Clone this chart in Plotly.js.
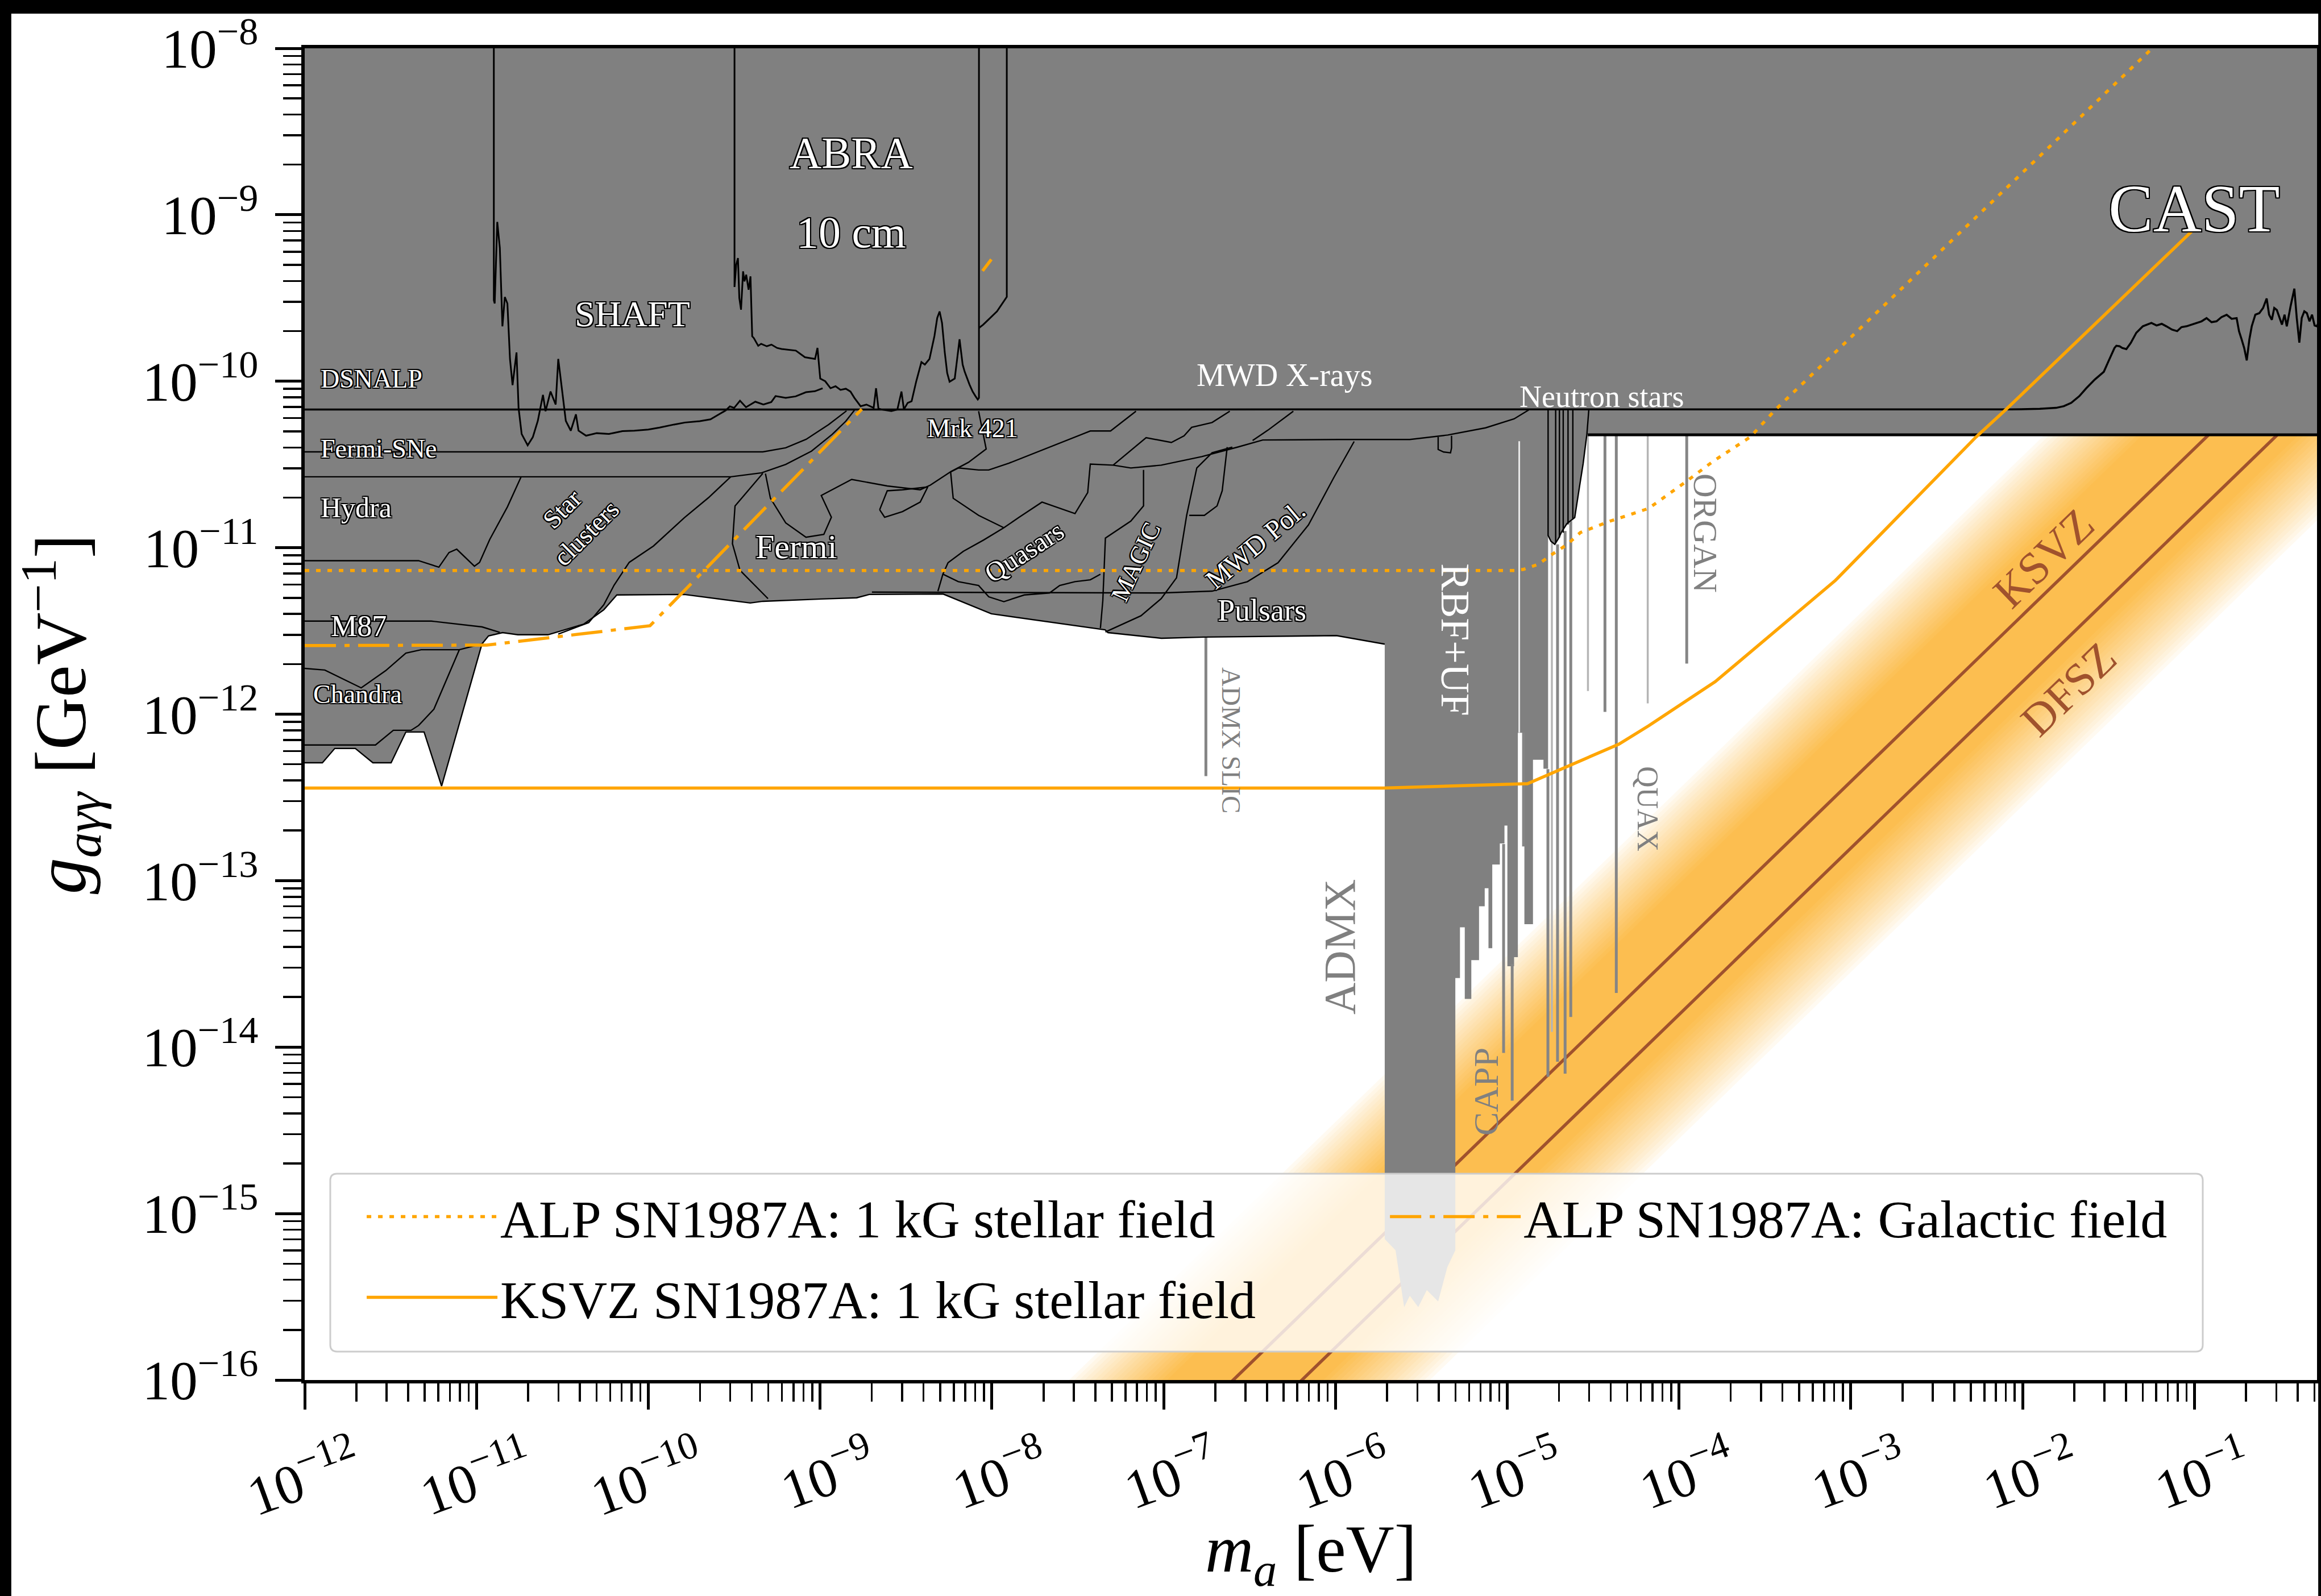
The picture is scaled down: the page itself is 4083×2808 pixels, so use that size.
<!DOCTYPE html>
<html>
<head>
<meta charset="utf-8">
<script src="https://cdn.plot.ly/plotly-3.0.1.min.js"></script>
<style>
html, body { margin: 0; padding: 0; background: #000; overflow: hidden; }
#chart { width: 4083px; height: 2808px; }
</style>
</head>
<body>
<div id="chart"></div>
<script>
// ---------------------------------------------------------------------------
// DATA: every point is [log10(m_a / eV), log10(g_agg / GeV^-1)]
// ---------------------------------------------------------------------------

// lower edge of the astrophysical exclusion region (left -> right)
const astroFloor = [[-12,-12.292],[-11.897,-12.292],[-11.825,-12.206],[-11.705,-12.206],[-11.603,-12.292],[-11.497,-12.292],[-11.411,-12.107],[-11.305,-12.107],[-11.203,-12.432],[-10.968,-11.578],[-10.930,-11.530],[-10.848,-11.510],[-10.759,-11.523],[-10.584,-11.523],[-10.375,-11.459],[-10.259,-11.373],[-10.183,-11.284],[-9.790,-11.281],[-9.406,-11.332],[-9.333,-11.322],[-8.992,-11.308],[-8.787,-11.301],[-8.714,-11.281],[-8.284,-11.278],[-8.003,-11.397],[-7.341,-11.493],[-7.324,-11.510],[-7.013,-11.544],[-6.762,-11.537],[-5.994,-11.528],[-5.713,-11.579]];

// haloscopes (ADMX, RBF+UF, CAPP, ...) and the rest of the outline, closing the grey region
const haloEdge = [[-5.713,-15.153],[-5.650,-15.221],[-5.600,-15.562],[-5.567,-15.494],[-5.518,-15.562],[-5.468,-15.460],[-5.402,-15.528],[-5.349,-15.323],[-5.302,-15.221],[-5.302,-13.585],[-5.275,-13.585],[-5.275,-13.280],[-5.247,-13.280],[-5.247,-13.711],[-5.209,-13.711],[-5.209,-13.478],[-5.164,-13.478],[-5.164,-13.154],[-5.131,-13.154],[-5.131,-13.046],[-5.109,-13.046],[-5.109,-13.406],[-5.087,-13.406],[-5.087,-12.903],[-5.043,-12.903],[-5.043,-12.777],[-5.016,-12.777],[-5.016,-12.669],[-4.999,-12.669],[-4.999,-13.514],[-4.960,-13.514],[-4.960,-13.460],[-4.938,-13.460],[-4.938,-12.112],[-4.900,-12.112],[-4.900,-13.262],[-4.850,-13.262],[-4.850,-12.274],[-4.789,-12.274],[-4.789,-12.328],[-4.762,-12.328],[-4.762,-10.926],[-4.745,-10.962],[-4.723,-10.980],[-4.701,-10.944],[-4.685,-10.908],[-4.652,-10.855],[-4.607,-10.819],[-4.580,-10.639],[-4.558,-10.495],[-4.536,-10.316],[-4.531,-10.322],[-0.1,-10.322],[-0.1,-7.9],[-12.1,-7.9],[-12.1,-12.292]];

// black boundaries inside the astrophysical region
const fermiSNeEdge = [[-12,-10.424],[-9.333,-10.424],[-9.2,-10.40],[-9.081,-10.349],[-8.95,-10.26],[-8.846,-10.178]];
const hydraTopEdge = [[-12,-10.574],[-9.52,-10.574],[-9.34,-10.55],[-9.2,-10.50],[-9.05,-10.42],[-8.93,-10.32],[-8.85,-10.24],[-8.80,-10.174]];
const hydraBottomEdge = [[-12,-11.078],[-11.337,-11.078],[-11.219,-11.117],[-11.160,-11.029],[-11.115,-11.009],[-11.056,-11.068],[-11.012,-11.111],[-10.982,-11.088],[-10.923,-10.951],[-10.820,-10.755],[-10.746,-10.588],[-10.74,-10.574]];
const starClusterEdge = [[-9.52,-10.574],[-9.65,-10.70],[-9.79,-10.82],[-9.97,-10.99],[-10.111,-11.088],[-10.199,-11.225],[-10.259,-11.343],[-10.347,-11.450],[-10.524,-11.519]];
const m87Edge = [[-12,-11.441],[-11.263,-11.441],[-10.967,-11.476],[-10.864,-11.509]];
const chandraTopEdge = [[-12,-11.725],[-11.883,-11.735],[-11.671,-11.842],[-11.529,-11.739],[-11.411,-11.633],[-11.322,-11.613],[-11.100,-11.613],[-10.968,-11.578]];
const chandraBottomEdge = [[-11.100,-11.613],[-11.174,-11.793],[-11.248,-11.970],[-11.337,-12.068],[-11.381,-12.097],[-11.484,-12.097],[-11.588,-12.185],[-12,-12.185]];
const fermiLeftEdge = [[-9.333,-10.553],[-9.495,-10.749],[-9.510,-10.976],[-9.466,-11.136],[-9.303,-11.306]];
const fermiInnerEdge = [[-9.318,-10.555],[-9.289,-10.703],[-9.200,-10.851],[-9.082,-10.937],[-8.978,-10.920],[-8.934,-10.817],[-8.993,-10.686],[-8.816,-10.590],[-8.609,-10.629],[-8.417,-10.652],[-8.358,-10.624],[-8.240,-10.544],[-8.136,-10.487],[-8.033,-10.407],[-8.077,-10.180]];
const fermiLoopEdge = [[-8.653,-10.772],[-8.609,-10.658],[-8.520,-10.652],[-8.373,-10.635],[-8.417,-10.726],[-8.520,-10.783],[-8.624,-10.817],[-8.653,-10.772]];
const quasarLeftEdge = [[-8.240,-10.544],[-8.225,-10.703],[-8.077,-10.806],[-7.930,-10.880],[-8.048,-10.954],[-8.166,-11.022],[-8.255,-11.090],[-8.285,-11.159],[-8.314,-11.261]];
const quasarBottomEdge = [[-8.285,-11.159],[-8.195,-11.204],[-8.077,-11.227],[-8.018,-11.295],[-7.930,-11.324],[-7.811,-11.284],[-7.664,-11.272],[-7.605,-11.227],[-7.516,-11.204],[-7.427,-11.193],[-7.368,-11.159]];
const quasarRightEdge = [[-7.930,-10.880],[-7.841,-10.817],[-7.708,-10.726],[-7.516,-10.795],[-7.442,-10.669],[-7.427,-10.498],[-7.294,-10.504]];
const mrk421Edge = [[-8.240,-10.544],[-8.195,-10.521],[-8.077,-10.533],[-8.018,-10.533],[-7.900,-10.492],[-7.693,-10.407],[-7.605,-10.373],[-7.427,-10.299],[-7.309,-10.299],[-7.161,-10.180]];
const pulsarTopEdge = [[-8.698,-11.267],[-7.014,-11.272],[-6.718,-11.261],[-6.512,-11.204],[-6.334,-11.090],[-6.157,-10.863],[-6.009,-10.578],[-5.891,-10.362]];
const magicLeftEdge = [[-7.368,-11.483],[-7.354,-11.318],[-7.339,-10.942],[-7.191,-10.840],[-7.117,-10.749],[-7.117,-10.533]];
const magicRightEdge = [[-7.339,-11.506],[-7.132,-11.409],[-7.014,-11.306],[-6.925,-11.181],[-6.866,-10.806],[-6.807,-10.521],[-6.718,-10.430],[-6.600,-10.396]];
const mwdNotchEdge = [[-6.851,-10.806],[-6.763,-10.806],[-6.689,-10.749],[-6.659,-10.658],[-6.630,-10.396]];
const mwdXrayEdge = [[-7.294,-10.504],[-7.191,-10.521],[-7.014,-10.504],[-6.778,-10.453],[-6.571,-10.396],[-6.423,-10.353],[-5.980,-10.35],[-5.567,-10.35],[-5.346,-10.323],[-5.126,-10.28],[-4.960,-10.226],[-4.872,-10.171]];
const mwdUpperEdge = [[-7.294,-10.504],[-7.221,-10.442],[-7.102,-10.339],[-6.955,-10.368],[-6.881,-10.328],[-6.837,-10.277],[-6.718,-10.248],[-6.615,-10.180]];
const mwdUpperEdge2 = [[-6.482,-10.356],[-6.393,-10.294],[-6.245,-10.180]];
const notchEdge = [[-5.402,-10.335],[-5.402,-10.41],[-5.37,-10.425],[-5.33,-10.43],[-5.324,-10.40],[-5.324,-10.328]];
const neutronStarEdge = [[-4.762,-10.172],[-4.762,-10.926],[-4.745,-10.962],[-4.723,-10.980],[-4.701,-10.944],[-4.685,-10.908],[-4.652,-10.855],[-4.607,-10.819],[-4.580,-10.639],[-4.558,-10.495],[-4.536,-10.316],[-4.525,-10.172]];
const neutronStarInner = [[-4.718,-10.172],[-4.718,-10.97],null,[-4.696,-10.172],[-4.696,-10.94],null,[-4.674,-10.172],[-4.674,-10.91],null,[-4.646,-10.172],[-4.646,-10.86],null,[-4.618,-10.172],[-4.618,-10.83]];
const floorLine = [[-4.531,-10.322],[-0.1,-10.322]];

// haloscope single-frequency lines
const haloLinesDark = [[-4.763,-12.33],[-4.763,-14.178],null,[-4.707,-10.98],[-4.707,-14.088],null,[-4.663,-10.90],[-4.663,-14.160],null,[-4.630,-10.84],[-4.630,-13.819],null,[-4.431,-10.322],[-4.431,-11.986],null,[-4.365,-10.322],[-4.365,-13.675],null,[-3.955,-10.322],[-3.955,-11.696],null,[-5.021,-12.78],[-5.021,-14.035],null,[-4.971,-13.5],[-4.971,-14.322],null,[-4.905,-12.11],[-4.905,-12.795],null,[-6.754,-11.529],[-6.754,-12.372]];
const haloLinesLight = [[-4.740,-10.97],[-4.740,-13.909],null,[-4.530,-10.322],[-4.530,-11.861],null,[-4.182,-10.322],[-4.182,-11.935]];
const haloSlit = [[-4.930,-10.36],[-4.930,-12.11]];

// CAST helioscope limit
const castLimit = [[-12,-10.170],[-2.067,-10.169],[-1.90,-10.166],[-1.805,-10.160],[-1.76,-10.150],[-1.717,-10.130],[-1.67,-10.09],[-1.629,-10.042],[-1.58,-9.99],[-1.527,-9.943],[-1.50,-9.88],[-1.484,-9.84],[-1.465,-9.80],[-1.454,-9.787],[-1.435,-9.79],[-1.420,-9.80],[-1.396,-9.807],[-1.37,-9.77],[-1.338,-9.709],[-1.30,-9.67],[-1.275,-9.66],[-1.250,-9.650],[-1.22,-9.665],[-1.190,-9.655],[-1.163,-9.670],[-1.13,-9.690],[-1.10,-9.699],[-1.075,-9.675],[-1.046,-9.670],[-1.015,-9.66],[-0.987,-9.650],[-0.958,-9.640],[-0.929,-9.621],[-0.900,-9.645],[-0.871,-9.640],[-0.842,-9.615],[-0.812,-9.601],[-0.783,-9.625],[-0.754,-9.621],[-0.740,-9.70],[-0.725,-9.748],[-0.710,-9.80],[-0.695,-9.875],[-0.680,-9.75],[-0.666,-9.670],[-0.645,-9.60],[-0.622,-9.591],[-0.600,-9.56],[-0.579,-9.503],[-0.565,-9.60],[-0.549,-9.631],[-0.535,-9.56],[-0.520,-9.572],[-0.505,-9.62],[-0.490,-9.66],[-0.475,-9.60],[-0.462,-9.670],[-0.440,-9.55],[-0.418,-9.444],[-0.404,-9.62],[-0.389,-9.768],[-0.375,-9.62],[-0.360,-9.58],[-0.345,-9.591],[-0.330,-9.64],[-0.315,-9.60],[-0.300,-9.665],[-0.287,-9.670],[-0.27,-9.63]];

// SHAFT limit
const shaftLimit = [[-10.899,-8.0],[-10.899,-9.513],[-10.894,-9.533],[-10.879,-9.043],[-10.864,-9.200],[-10.849,-9.670],[-10.835,-9.494],[-10.820,-9.533],[-10.805,-9.866],[-10.790,-10.023],[-10.767,-9.827],[-10.755,-10.160],[-10.737,-10.317],[-10.702,-10.385],[-10.672,-10.336],[-10.643,-10.238],[-10.613,-10.082],[-10.598,-10.180],[-10.569,-10.062],[-10.539,-10.140],[-10.524,-9.866],[-10.501,-10.062],[-10.480,-10.238],[-10.451,-10.297],[-10.421,-10.199],[-10.406,-10.297],[-10.362,-10.327],[-10.30,-10.312],[-10.229,-10.317],[-10.15,-10.30],[-10.081,-10.297],[-10.0,-10.29],[-9.934,-10.278],[-9.85,-10.26],[-9.786,-10.248],[-9.70,-10.24],[-9.638,-10.229],[-9.590,-10.20],[-9.550,-10.176],[-9.525,-10.151],[-9.50,-10.16],[-9.466,-10.117],[-9.431,-10.156],[-9.377,-10.123],[-9.330,-10.14],[-9.284,-10.125],[-9.259,-10.089],[-9.20,-10.10],[-9.142,-10.091],[-9.082,-10.066],[-9.03,-10.06],[-8.985,-10.042]];

// ABRA-10 cm limits
const abraLimit = [[-9.498,-8.0],[-9.498,-9.434],[-9.488,-9.30],[-9.478,-9.26],[-9.470,-9.50],[-9.460,-9.57],[-9.448,-9.34],[-9.440,-9.40],[-9.430,-9.36],[-9.416,-9.45],[-9.405,-9.37],[-9.395,-9.73],[-9.386,-9.74],[-9.36,-9.787],[-9.343,-9.775],[-9.31,-9.79],[-9.283,-9.78],[-9.25,-9.80],[-9.224,-9.806],[-9.18,-9.81],[-9.141,-9.816],[-9.088,-9.856],[-9.029,-9.866],[-9.015,-9.80],[-9.005,-9.90],[-8.999,-9.984],[-8.97,-10.0],[-8.939,-10.042],[-8.91,-10.03],[-8.881,-10.052],[-8.85,-10.045],[-8.823,-10.062],[-8.80,-10.10],[-8.764,-10.150],[-8.73,-10.14],[-8.688,-10.160],[-8.674,-10.042],[-8.660,-10.165],[-8.645,-10.169],[-8.585,-10.179],[-8.55,-10.17],[-8.526,-10.062],[-8.512,-10.169],[-8.490,-10.13],[-8.467,-10.12],[-8.44,-10.0],[-8.410,-9.885],[-8.390,-9.90],[-8.363,-9.866],[-8.334,-9.728],[-8.318,-9.62],[-8.304,-9.581],[-8.290,-9.65],[-8.274,-9.827],[-8.260,-9.95],[-8.246,-10.003],[-8.216,-9.984],[-8.200,-9.85],[-8.188,-9.748],[-8.170,-9.90],[-8.158,-9.943],[-8.130,-10.02],[-8.112,-10.062],[-8.095,-10.09],[-8.082,-10.110],[-8.075,-10.100],[-8.075,-8.0]];
const abraLimit2 = [[-8.075,-9.680],[-8.05,-9.66],[-8.02,-9.63],[-8.00,-9.61],[-7.97,-9.58],[-7.95,-9.55],[-7.93,-9.52],[-7.913,-9.493],[-7.913,-8.0]];

// SN1987A projections (orange)
const alpStellar = [[-12,-11.137],[-4.95,-11.137],[-4.905,-11.130],[-4.82,-11.10],[-4.730,-11.034],[-4.65,-10.98],[-4.574,-10.909],[-4.40,-10.84],[-4.177,-10.764],[-3.964,-10.607],[-3.80,-10.48],[-3.585,-10.335],[-3.439,-10.171],[-1.295,-8.053],[-1.249,-8.003]];
const alpGalactic = [[-12,-11.588],[-10.94,-11.585],[-9.99,-11.469],[-8.757,-10.168]];
const alpGalacticGap = [[-8.054,-9.337],[-8.003,-9.268]];
const ksvzStellar = [[-12,-12.444],[-5.72,-12.444],[-4.905,-12.418],[-4.883,-12.418],[-4.35,-12.18],[-4.177,-12.070],[-3.789,-11.805],[-3.089,-11.196],[-2.271,-10.335],[-2.096,-10.169],[-1.017,-9.101]];

// QCD axion band: log10(g/m) of outer top edge, core top, core bottom, outer bottom; and model lines
const bandProfile = [-8.45, -9.02, -9.93, -10.55];
const ksvzLogRatio = -9.405;
const dfszLogRatio = -9.805;

// ---------------------------------------------------------------------------
// STYLE
// ---------------------------------------------------------------------------
const FONT = '"Liberation Serif", "DejaVu Serif", serif';
const GRAY = '#808080';
const ORANGE = '#ffa500';
const SIENNA = '#a0522d';
const BAND_RGB = [252, 190, 80];
const BAND_SPAN = [-9, 0];
const OUTLINE_CSS = 'text-shadow: -2px -2px 0 rgb(0,0,0), 2px -2px 0 rgb(0,0,0), -2px 2px 0 rgb(0,0,0), 2px 2px 0 rgb(0,0,0), 0 2px 0 rgb(0,0,0), 0 -2px 0 rgb(0,0,0), 2px 0 0 rgb(0,0,0), -2px 0 0 rgb(0,0,0)';

function toXY(pts) {
  return {
    x: pts.map(p => (p === null ? null : Math.pow(10, p[0]))),
    y: pts.map(p => (p === null ? null : Math.pow(10, p[1])))
  };
}
function lineTrace(pts, color, width, dash) {
  const xy = toXY(pts);
  return {type: 'scatter', mode: 'lines', x: xy.x, y: xy.y,
          line: {color: color, width: width, dash: dash || 'solid'},
          hoverinfo: 'skip', showlegend: false, connectgaps: false};
}
function fillTrace(pts, color) {
  const xy = toXY(pts);
  return {type: 'scatter', mode: 'lines', x: xy.x, y: xy.y, fill: 'toself',
          fillcolor: color, line: {width: 0, color: color}, hoverinfo: 'skip', showlegend: false};
}

const traces = [];

// gradient band as nested strips, widest/lightest first
const NB = 20;
for (let k = 1; k <= NB; k++) {
  const f = (k - 1) / (NB - 1);
  const top = bandProfile[0] + (bandProfile[1] - bandProfile[0]) * f;
  const bot = bandProfile[3] + (bandProfile[2] - bandProfile[3]) * f;
  const t = Math.pow(k / NB, 0.85);
  const c = BAND_RGB.map(v => Math.round(255 + (v - 255) * t));
  const pts = [[BAND_SPAN[0], BAND_SPAN[0] + top], [BAND_SPAN[1], BAND_SPAN[1] + top],
               [BAND_SPAN[1], BAND_SPAN[1] + bot], [BAND_SPAN[0], BAND_SPAN[0] + bot]];
  traces.push(fillTrace(pts, 'rgb(' + c.join(',') + ')'));
}
[ksvzLogRatio, dfszLogRatio].forEach(r => {
  traces.push(lineTrace([[BAND_SPAN[0], BAND_SPAN[0] + r], [BAND_SPAN[1], BAND_SPAN[1] + r]], SIENNA, 5.5));
});

// grey excluded region
traces.push(fillTrace(astroFloor.concat(haloEdge), GRAY));

// haloscope lines
traces.push(lineTrace(haloLinesDark, '#858585', 5));
traces.push(lineTrace(haloLinesLight, '#b5b5b5', 3.5));
traces.push(lineTrace(haloSlit, '#e8e8e8', 3));

// black boundaries
[astroFloor, fermiSNeEdge, hydraTopEdge, hydraBottomEdge, starClusterEdge, m87Edge, chandraTopEdge,
 chandraBottomEdge, fermiLeftEdge, fermiInnerEdge, fermiLoopEdge, quasarLeftEdge, quasarBottomEdge,
 quasarRightEdge, mrk421Edge, pulsarTopEdge, magicLeftEdge, magicRightEdge, mwdNotchEdge, mwdXrayEdge,
 mwdUpperEdge, mwdUpperEdge2, notchEdge, neutronStarEdge].forEach(e => traces.push(lineTrace(e, '#000', 2.4)));
traces.push(lineTrace(neutronStarInner, '#000', 2.4));
traces.push(lineTrace(floorLine, '#000', 5));
traces.push(lineTrace(castLimit, '#000', 3.5));
traces.push(lineTrace(shaftLimit, '#000', 3));
traces.push(lineTrace(abraLimit, '#000', 3));
traces.push(lineTrace(abraLimit2, '#000', 3));

// SN1987A projections
const DOT = '8px,12px';
const DASHDOT = '55px,15px,9px,15px';
let tr = lineTrace(alpStellar, ORANGE, 5.5, DOT);
tr.name = 'ALP SN1987A: 1 kG stellar field'; tr.showlegend = true; tr.legend = 'legend';
traces.push(tr);
tr = lineTrace(alpGalactic, ORANGE, 5.5, DASHDOT);
tr.name = 'ALP SN1987A: Galactic field'; tr.showlegend = true; tr.legend = 'legend2';
traces.push(tr);
tr = lineTrace(ksvzStellar, ORANGE, 5.5);
tr.name = 'KSVZ SN1987A: 1 kG stellar field'; tr.showlegend = true; tr.legend = 'legend3';
traces.push(tr);
traces.push(lineTrace(alpGalacticGap, ORANGE, 5.5));

// ---------------------------------------------------------------------------
// LABELS
// ---------------------------------------------------------------------------
const labels = [
  {t: 'ABRA', x: -8.819, y: -8.626, s: 78, o: 1},
  {t: '10 cm', x: -8.819, y: -9.106, s: 78, o: 1},
  {t: 'SHAFT', x: -10.094, y: -9.595, s: 64, o: 1},
  {t: 'DSNALP', x: -11.915, y: -9.987, s: 46, o: 1, a: 'left'},
  {t: 'Fermi-SNe', x: -11.915, y: -10.405, s: 46, o: 1, a: 'left'},
  {t: 'Hydra', x: -11.915, y: -10.76, s: 50, o: 1, a: 'left'},
  {t: 'M87', x: -11.854, y: -11.471, s: 52, o: 1, a: 'left'},
  {t: 'Chandra', x: -11.957, y: -11.882, s: 46, o: 1, a: 'left'},
  {t: 'Star<br>clusters', x: -10.43, y: -10.84, s: 46, o: 1, r: -45},
  {t: 'Fermi', x: -9.141, y: -10.994, s: 60, o: 1},
  {t: 'Mrk 421', x: -8.113, y: -10.282, s: 46, o: 1},
  {t: 'Quasars', x: -7.811, y: -11.022, s: 48, o: 1, r: -33},
  {t: 'MAGIC', x: -7.161, y: -11.085, s: 44, o: 1, r: -65},
  {t: 'MWD Pol.', x: -6.467, y: -10.982, s: 48, o: 1, r: -40},
  {t: 'Pulsars', x: -6.429, y: -11.378, s: 54, o: 1},
  {t: 'CAST', x: -1.002, y: -8.964, s: 118, o: 1},
  {t: 'MWD X-rays', x: -6.296, y: -9.964, s: 56},
  {t: 'Neutron stars', x: -4.449, y: -10.093, s: 54},
  {t: 'RBF+UF', x: -5.301, y: -11.553, s: 72, r: 90},
  {t: 'ADMX SLIC', x: -6.606, y: -12.156, s: 47, r: 90, c: GRAY},
  {t: 'ADMX', x: -5.974, y: -13.398, s: 78, r: -90, c: GRAY},
  {t: 'CAPP', x: -5.126, y: -14.268, s: 62, r: -90, c: GRAY},
  {t: 'QUAX', x: -4.182, y: -12.567, s: 52, r: 90, c: GRAY},
  {t: 'ORGAN', x: -3.847, y: -10.912, s: 59, r: 90, c: GRAY},
  {t: 'KSVZ', x: -1.877, y: -11.064, s: 80, r: -44, c: SIENNA},
  {t: 'DFSZ', x: -1.731, y: -11.848, s: 80, r: -44, c: SIENNA}
];
const annotations = labels.map(L => ({
  xref: 'x', yref: 'y', x: L.x, y: L.y,
  text: L.o ? '<span style="' + OUTLINE_CSS + '">' + L.t.split('<br>').join('</span><br><span style="' + OUTLINE_CSS + '">') + '</span>' : L.t,
  showarrow: false, textangle: L.r || 0, xanchor: L.a || 'center', yanchor: 'middle',
  font: {family: FONT, size: L.s, color: L.c || '#ffffff'}
}));

// ---------------------------------------------------------------------------
// LAYOUT
// ---------------------------------------------------------------------------
function legendCfg(x, y) {
  return {x: x, y: y, xanchor: 'left', yanchor: 'middle', orientation: 'v',
          bgcolor: 'rgba(0,0,0,0)', bordercolor: 'rgba(0,0,0,0)', borderwidth: 0,
          font: {family: FONT, size: 94, color: '#000'}, itemwidth: 230,
          itemclick: false, itemdoubleclick: false};
}
const bx0 = 0.01271, bx1 = 0.94322, by0 = 0.02134, by1 = 0.15493, rx = 0.0034, ry = 0.0051;
const boxPath = 'M ' + (bx0 + rx) + ',' + by1 + ' L ' + (bx1 - rx) + ',' + by1 +
  ' Q ' + bx1 + ',' + by1 + ' ' + bx1 + ',' + (by1 - ry) + ' L ' + bx1 + ',' + (by0 + ry) +
  ' Q ' + bx1 + ',' + by0 + ' ' + (bx1 - rx) + ',' + by0 + ' L ' + (bx0 + rx) + ',' + by0 +
  ' Q ' + bx0 + ',' + by0 + ' ' + bx0 + ',' + (by0 + ry) + ' L ' + bx0 + ',' + (by1 - ry) +
  ' Q ' + bx0 + ',' + by1 + ' ' + (bx0 + rx) + ',' + by1 + ' Z';

function axisCfg(range, titleText, titleSize, extra) {
  return Object.assign({
    type: 'log', range: range, autorange: false, showgrid: false, zeroline: false,
    showline: true, linecolor: '#000', linewidth: 6, mirror: true,
    ticks: 'outside', ticklen: 46, tickwidth: 5, tickcolor: '#000',
    tickmode: 'linear', tick0: 0, dtick: 1, exponentformat: 'power', showexponent: 'all',
    tickfont: {family: FONT, size: 78, color: '#000'},
    minor: {ticks: 'outside', ticklen: 32, tickwidth: 3.5, tickcolor: '#000', dtick: 'D1', showgrid: false},
    title: {text: titleText, font: {family: FONT, size: titleSize, color: '#000'}},
    automargin: false, fixedrange: true
  }, extra);
}

const layout = {
  width: 4083, height: 2808,
  margin: {l: 536, r: 7, t: 85, b: 380, pad: 0},
  paper_bgcolor: '#000000', plot_bgcolor: '#ffffff',
  font: {family: FONT, color: '#000'},
  showlegend: true,
  xaxis: axisCfg([-12, -0.286], '<i>m</i><sub><i>a</i></sub> [eV]', 118,
                 {tickangle: -20, ticklabelstandoff: 8, ticklabelshift: 90}),
  yaxis: axisCfg([-16, -8], '<i>g</i><sub><i>aγγ</i></sub> [GeV<sup>−1</sup>]', 128,
                 {ticklabelstandoff: 14}),
  legend: legendCfg(0.0294, 0.1225),
  legend2: legendCfg(0.5379, 0.1225),
  legend3: legendCfg(0.0294, 0.0619),
  shapes: [
    {type: 'rect', xref: 'paper', yref: 'paper', x0: -0.1458, x1: 1.0006, y0: -0.17, y1: 1.026,
     fillcolor: '#ffffff', line: {width: 0}, layer: 'below'},
    {type: 'path', xref: 'paper', yref: 'paper', path: boxPath,
     fillcolor: 'rgba(255,255,255,0.8)', line: {color: '#cccccc', width: 3}, layer: 'above'}
  ],
  annotations: annotations
};
layout.yaxis.title.standoff = 58;

Plotly.newPlot('chart', traces, layout, {staticPlot: true, displayModeBar: false});
</script>
</body>
</html>
